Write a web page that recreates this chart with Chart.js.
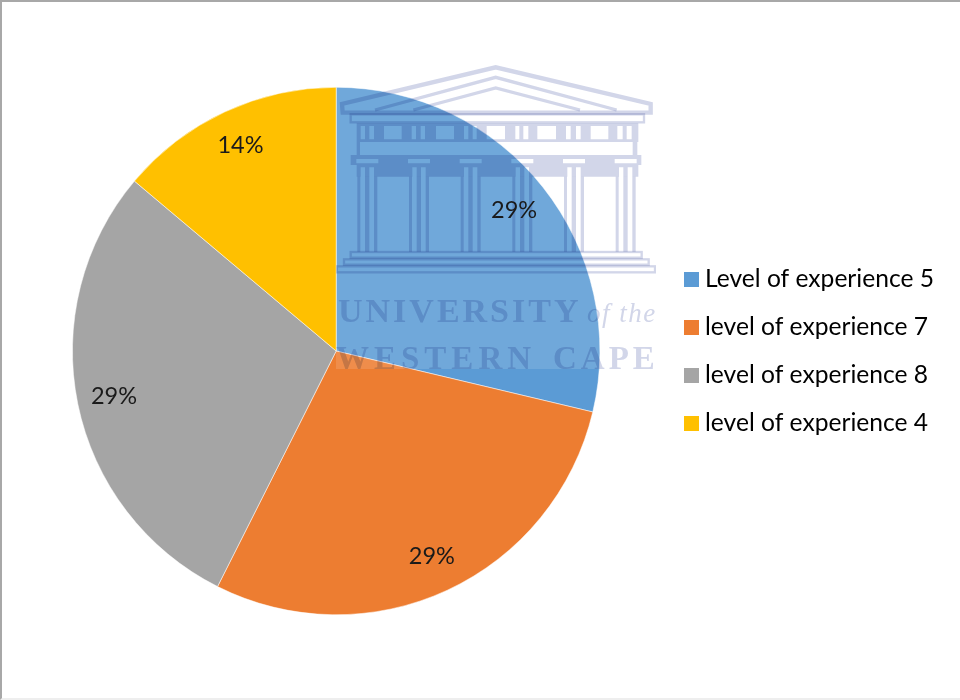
<!DOCTYPE html>
<html>
<head>
<meta charset="utf-8">
<script src="https://cdn.jsdelivr.net/npm/chart.js@4"></script>
<style>
  html, body { margin: 0; padding: 0; background: #fff; }
  #frame { position: relative; width: 960px; height: 700px; box-sizing: border-box;
           border-top: 2px solid #a8a8a8; border-left: 2px solid #a8a8a8; border-bottom: 2px solid #eeeeee; overflow: hidden; }
  canvas { position: absolute; left: -2px; top: -2px; }
</style>
</head>
<body>
<div id="frame"><canvas id="chart" width="960" height="700"></canvas></div>
<script>
const categories = ["Level of experience 5", "level of experience 7", "level of experience 8", "level of experience 4"];
const shares = [29, 29, 29, 14];
const sliceColors = ["#5B9BD5", "#ED7D31", "#A5A5A5", "#FFC000"];
const sansFont = "Lato, 'Open Sans', sans-serif";

// Square legend key painted from a slice colour.
function keySwatch(color) {
  const c = document.createElement("canvas");
  c.width = 15; c.height = 15;
  const g = c.getContext("2d");
  g.fillStyle = color;
  g.fillRect(0, 0, 15, 15);
  return c;
}

// University crest and name laid over the upper right of the page.
function drawCrest(ctx) {
  const ink = "rgb(210,214,233)";
  ctx.save();
  ctx.fillStyle = "rgba(255,255,255,0.13)";
  ctx.fillRect(336, 65, 320, 304);

  ctx.beginPath();
  ctx.rect(336, 65, 320, 304);
  ctx.clip();
  ctx.globalCompositeOperation = "multiply";
  ctx.filter = "blur(0.6px)";

  // Building outline, in units of a third of a pixel.
  ctx.save();
  ctx.translate(330, 60);
  ctx.scale(1 / 3, 1 / 3);
  ctx.strokeStyle = ink;
  ctx.fillStyle = ink;
  ctx.lineJoin = "miter";

  ctx.lineWidth = 13;
  ctx.beginPath();
  ctx.moveTo(38, 158); ctx.lineTo(36, 132); ctx.lineTo(497, 22); ctx.lineTo(962, 132); ctx.lineTo(962, 158);
  ctx.closePath();
  ctx.stroke();
  ctx.lineWidth = 10;
  ctx.beginPath();
  ctx.moveTo(135, 150); ctx.lineTo(497, 52); ctx.lineTo(860, 150);
  ctx.moveTo(250, 150); ctx.lineTo(497, 84); ctx.lineTo(750, 150);
  ctx.stroke();

  ctx.lineWidth = 7;
  ctx.strokeRect(62, 163, 880, 24);

  // Frieze band with its openings cut out.
  const frieze = [[92,105],[118,132],[162,215],[245,258],[272,285],[318,372],[402,415],[428,440],[470,525],[556,568],[580,595],[622,678],[708,722],[738,752],[782,835],[862,878],[890,905]];
  ctx.beginPath();
  ctx.rect(80, 190, 845, 56);
  frieze.forEach(([a, b]) => ctx.rect(a, 198, b - a, 40));
  ctx.fill("evenodd");
  ctx.fillRect(80, 246, 10, 39);
  ctx.fillRect(908, 246, 14, 39);

  // Cornice above the columns, with the capitals left open.
  const columnCentres = [112, 267, 422, 577, 732, 887];
  ctx.beginPath();
  ctx.rect(62, 285, 872, 30);
  ctx.rect(80, 315, 845, 35);
  columnCentres.forEach(c => {
    ctx.rect(c - 33, 297, 66, 13);
    ctx.rect(c - 20, 322, 13, 28);
    ctx.rect(c + 6, 322, 14, 28);
  });
  ctx.fill("evenodd");

  columnCentres.forEach(c => {
    ctx.fillRect(c - 30, 350, 9, 225);
    ctx.fillRect(c - 7, 350, 13, 225);
    ctx.fillRect(c + 20, 350, 10, 225);
  });

  // Steps.
  ctx.lineWidth = 7;
  ctx.strokeRect(62, 576, 873, 17);
  ctx.strokeRect(42, 598, 914, 16);
  ctx.strokeRect(20, 619, 955, 18);
  ctx.restore();

  // Name.
  ctx.fillStyle = ink;
  ctx.textBaseline = "alphabetic";
  ctx.textAlign = "left";
  ctx.font = "bold 34px 'Liberation Serif', serif";
  ctx.letterSpacing = "3px";
  ctx.fillText("UNIVERSITY", 338, 322);
  ctx.font = "italic 27px 'Liberation Serif', serif";
  ctx.letterSpacing = "1.5px";
  ctx.fillText("of the", 587, 322);
  ctx.font = "bold 33px 'Liberation Serif', serif";
  ctx.letterSpacing = "5px";
  ctx.fillText("WESTERN", 336, 369);
  ctx.letterSpacing = "4px";
  ctx.fillText("CAPE", 553, 369);
  ctx.restore();
}

// Crest sits over the slices; percentage labels sit over both.
const overlay = {
  id: "overlay",
  afterDatasetsDraw(chart) {
    const ctx = chart.ctx;
    drawCrest(ctx);
    ctx.save();
    ctx.font = "23.5px " + sansFont;
    ctx.fillStyle = "#1a1a1a";
    ctx.textAlign = "center";
    ctx.textBaseline = "middle";
    chart.getDatasetMeta(0).data.forEach((arc, i) => {
      const p = arc.getProps(["x", "y", "startAngle", "endAngle", "outerRadius"], true);
      const mid = (p.startAngle + p.endAngle) / 2;
      const r = p.outerRadius * 0.86;
      ctx.fillText(shares[i] + "%", p.x + Math.cos(mid) * r, p.y + Math.sin(mid) * r);
    });
    ctx.restore();
  }
};

new Chart(document.getElementById("chart"), {
  type: "pie",
  data: {
    labels: categories,
    datasets: [{
      data: shares,
      backgroundColor: sliceColors,
      borderColor: "#ffffff",
      borderWidth: 0.5
    }]
  },
  options: {
    responsive: false,
    animation: false,
    layout: { padding: { left: 6, right: 16, top: 87, bottom: 85 } },
    plugins: {
      tooltip: { enabled: false },
      legend: {
        position: "right",
        labels: {
          font: { family: sansFont, size: 24.6 },
          color: "#1a1a1a",
          padding: 23.4,
          usePointStyle: true,
          boxWidth: 3,
          generateLabels: chart => categories.map((text, i) => ({
            text,
            index: i,
            fillStyle: sliceColors[i],
            strokeStyle: sliceColors[i],
            lineWidth: 0,
            pointStyle: keySwatch(sliceColors[i])
          }))
        }
      }
    }
  },
  plugins: [overlay]
});
</script>
</body>
</html>
